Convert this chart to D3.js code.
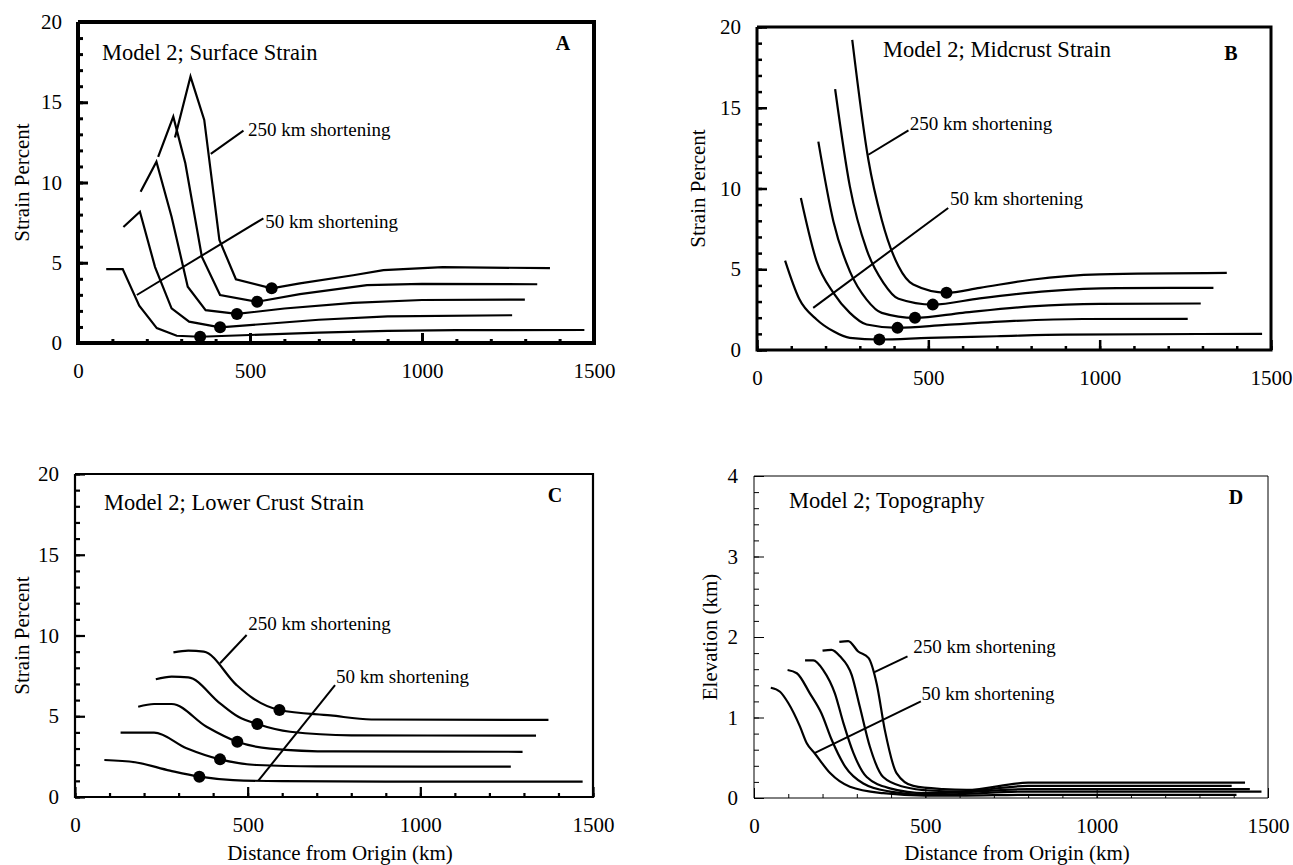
<!DOCTYPE html>
<html>
<head>
<meta charset="utf-8">
<script src="https://cdn.jsdelivr.net/npm/d3@7"></script>
<style>
  body { margin: 0; background: #fff; }
  svg { display: block; font-family: "Liberation Serif", "Times New Roman", serif; }
</style>
</head>
<body>
<div id="chart"></div>
<script>
// Tick values and labels
const xTicks = [0, 500, 1000, 1500];
const xMinorTicks = d3.range(0, 1501, 100);
const strainTicks = [0, 5, 10, 15, 20];
const strainMinorTicks = d3.range(0, 21, 1);
const elevTicks = [0, 1, 2, 3, 4];
const elevMinorTicks = d3.range(0, 4.01, 0.2);
const shorteningLabels = ["50 km shortening", "250 km shortening"];

// Panel A - surface strain, one curve per shortening step (50..250 km), [km, percent]
const surfaceStrain = [
    [[82, 4.6], [130, 4.6], [178, 2.33], [229, 0.93], [287, 0.45], [355, 0.39], [500, 0.5], [700, 0.65], [900, 0.76], [1100, 0.8], [1472, 0.81]],
    [[132, 7.23], [180, 8.18], [224, 4.73], [272, 2.16], [323, 1.33], [413, 0.98], [550, 1.2], [700, 1.45], [900, 1.66], [1262, 1.73]],
    [[182, 9.43], [228, 11.3], [272, 7.87], [319, 3.51], [371, 2.05], [462, 1.81], [600, 2.15], [800, 2.5], [1000, 2.68], [1299, 2.7]],
    [[233, 11.6], [277, 14.1], [312, 11.2], [360, 5.38], [413, 2.99], [521, 2.57], [645, 3.04], [840, 3.6], [1000, 3.69], [1335, 3.66]],
    [[282, 12.8], [327, 16.6], [367, 13.9], [411, 6.42], [459, 3.97], [563, 3.41], [645, 3.72], [800, 4.22], [888, 4.54], [1060, 4.73], [1372, 4.66]]
];
const surfaceDots = [[355, 0.39], [413, 0.98], [462, 1.81], [521, 2.57], [563, 3.41]];

// Panel B - midcrust strain
const midcrustStrain = [
    [[82, 5.53], [123, 3.17], [174, 1.89], [223, 1.16], [271, 0.75], [357, 0.65], [500, 0.75], [700, 0.85], [900, 0.95], [1474, 1.0]],
    [[128, 9.41], [174, 5.49], [223, 3.54], [271, 2.3], [320, 1.58], [410, 1.37], [550, 1.55], [750, 1.8], [950, 1.92], [1257, 1.93]],
    [[179, 12.9], [223, 7.96], [271, 4.87], [320, 3.12], [364, 2.3], [461, 1.99], [600, 2.3], [800, 2.7], [1000, 2.86], [1295, 2.88]],
    [[228, 16.15], [271, 10.13], [320, 6.21], [369, 4.16], [413, 3.17], [513, 2.81], [650, 3.2], [850, 3.65], [1050, 3.83], [1332, 3.85]],
    [[278, 19.2], [325, 11.78], [364, 8.07], [413, 5.18], [456, 4.05], [553, 3.54], [650, 3.85], [800, 4.35], [1000, 4.68], [1371, 4.77]]
];
const midcrustDots = [[357, 0.65], [410, 1.37], [461, 1.99], [513, 2.81], [553, 3.54]];

// Panel C - lower crust strain
const lowerCrustStrain = [
    [[85, 2.29], [174, 2.15], [275, 1.63], [360, 1.26], [458, 1.05], [600, 0.98], [900, 0.95], [1470, 0.95]],
    [[132, 3.98], [229, 3.98], [323, 3.02], [420, 2.33], [526, 1.98], [700, 1.9], [1262, 1.88]],
    [[183, 5.59], [229, 5.76], [280, 5.76], [381, 4.35], [470, 3.42], [565, 3.0], [750, 2.82], [1296, 2.8]],
    [[234, 7.29], [280, 7.45], [328, 7.41], [420, 5.8], [473, 4.97], [528, 4.52], [623, 4.04], [800, 3.82], [1335, 3.8]],
    [[285, 8.96], [328, 9.06], [373, 9.0], [468, 6.93], [516, 6.1], [592, 5.39], [740, 5.05], [858, 4.8], [1371, 4.77]]
];
const lowerCrustDots = [[360, 1.26], [420, 2.33], [470, 3.42], [528, 4.52], [592, 5.39]];

// Panel D - topography, elevation in km
const topography = [
    [[49, 1.37], [76, 1.32], [100, 1.18], [134, 0.89], [154, 0.68], [178, 0.55], [222, 0.31], [280, 0.14], [377, 0.06], [500, 0.03], [600, 0.03], [800, 0.04], [1408, 0.04]],
    [[98, 1.59], [125, 1.55], [163, 1.3], [197, 1.05], [227, 0.72], [266, 0.39], [319, 0.18], [397, 0.08], [500, 0.04], [600, 0.05], [800, 0.08], [1481, 0.08]],
    [[149, 1.71], [173, 1.71], [202, 1.59], [236, 1.3], [261, 0.93], [290, 0.56], [329, 0.26], [397, 0.12], [500, 0.06], [600, 0.07], [800, 0.11], [1447, 0.11]],
    [[200, 1.83], [226, 1.84], [251, 1.76], [285, 1.53], [309, 1.13], [338, 0.64], [377, 0.26], [436, 0.14], [520, 0.09], [600, 0.08], [800, 0.15], [1394, 0.15]],
    [[249, 1.94], [275, 1.95], [304, 1.82], [334, 1.74], [358, 1.42], [382, 0.84], [416, 0.31], [465, 0.15], [552, 0.11], [620, 0.1], [800, 0.19], [1433, 0.19]]
];

// Leader lines [x1, y1, x2, y2] and label anchors [x, y] in data units: 50 km first, then 250 km
const surfaceLeaders = [[171, 2.99, 539, 7.77], [386, 11.78, 481, 13.23]];
const surfaceLabelPos = [[544, 7.17], [494, 12.9]];
const midcrustLeaders = [[164, 2.61, 558, 8.79], [325, 12.09, 442, 13.6]];
const midcrustLabelPos = [[563, 8.98], [446, 13.64]];
const lowerCrustLeaders = [[531, 1.01, 753, 6.93], [420, 8.28, 497, 10.03]];
const lowerCrustLabelPos = [[756, 7.06], [502, 10.34]];
const topoLeaders = [[178, 0.56, 487, 1.2], [350, 1.56, 448, 1.76]];
const topoLabelPos = [[489, 1.22], [465, 1.8]];

const svg = d3.select('#chart')
    .append('svg')
    .attr('width', 1293)
    .attr('height', 865);

const panels = [
    {
        letter: 'A', title: 'Model 2; Surface Strain', yLabel: 'Strain Percent',
        box: [78, 22, 594, 343], yMax: 20, yTicks: strainTicks, yMinor: strainMinorTicks,
        curves: surfaceStrain, dots: surfaceDots, leaders: surfaceLeaders, labelPos: surfaceLabelPos,
        curve: d3.curveLinear, titleOff: [24, 38], letterOff: [31, 28], yLabelOff: 49, xLabel: false,
        frameW: 4, tickW: 3
    },
    {
        letter: 'B', title: 'Model 2; Midcrust Strain', yLabel: 'Strain Percent',
        box: [757, 27, 1271, 350], yMax: 20, yTicks: strainTicks, yMinor: strainMinorTicks,
        curves: midcrustStrain, dots: midcrustDots, leaders: midcrustLeaders, labelPos: midcrustLabelPos,
        curve: d3.curveMonotoneX, titleOff: [126, 30], letterOff: [40, 33], yLabelOff: 52, xLabel: false,
        frameW: 3, tickW: 2.5
    },
    {
        letter: 'C', title: 'Model 2; Lower Crust Strain', yLabel: 'Strain Percent',
        box: [75, 474, 593, 797], yMax: 20, yTicks: strainTicks, yMinor: strainMinorTicks,
        curves: lowerCrustStrain, dots: lowerCrustDots, leaders: lowerCrustLeaders, labelPos: lowerCrustLabelPos,
        curve: d3.curveMonotoneX, titleOff: [29, 36], letterOff: [38, 28], yLabelOff: 46, xLabel: true,
        frameW: 2.2, tickW: 2.2
    },
    {
        letter: 'D', title: 'Model 2; Topography', yLabel: 'Elevation (km)',
        box: [754, 476, 1268, 798], yMax: 4, yTicks: elevTicks, yMinor: elevMinorTicks,
        curves: topography, dots: [], leaders: topoLeaders, labelPos: topoLabelPos,
        curve: d3.curveMonotoneX, titleOff: [35, 32], letterOff: [32, 28], yLabelOff: 37, xLabel: true,
        frameW: 1, tickW: 1
    }
];

function drawPanel(p) {
    const [x0, y0, x1, y1] = p.box;
    const x = d3.scaleLinear().domain([0, 1500]).range([x0, x1]);
    const y = d3.scaleLinear().domain([0, p.yMax]).range([y1, y0]);
    const g = svg.append('g');

    // Frame drawn as one polyline through the scales, same way as the curves
    const plotLine = d3.line().x(d => x(d[0])).y(d => y(d[1]));
    g.append('path')
        .attr('d', plotLine([[0, p.yMax], [0, 0], [1500, 0], [1500, p.yMax], [0, p.yMax]]))
        .attr('fill', 'none')
        .attr('stroke', '#000')
        .attr('stroke-width', p.frameW);

    // Axes with inward ticks
    g.append('g')
        .attr('transform', `translate(0,${y1})`)
        .call(d3.axisBottom(x).tickValues(xMinorTicks).tickSizeInner(-4).tickSizeOuter(0).tickFormat(''))
        .call(a => a.select('.domain').remove())
        .selectAll('line').attr('stroke-width', p.tickW);
    g.append('g')
        .attr('transform', `translate(${x0},0)`)
        .call(d3.axisLeft(y).tickValues(p.yMinor).tickSizeInner(-5).tickSizeOuter(0).tickFormat(''))
        .call(a => a.select('.domain').remove())
        .selectAll('line').attr('stroke-width', p.tickW);
    const xAxis = g.append('g')
        .attr('transform', `translate(0,${y1})`)
        .call(d3.axisBottom(x).tickValues(xTicks).tickSizeInner(-10).tickSizeOuter(0).tickPadding(20).tickFormat(d3.format('d')));
    const yAxis = g.append('g')
        .attr('transform', `translate(${x0},0)`)
        .call(d3.axisLeft(y).tickValues(p.yTicks).tickSizeInner(-10).tickSizeOuter(0).tickPadding(16).tickFormat(d3.format('d')));
    [xAxis, yAxis].forEach(a => {
        a.select('.domain').remove();
        a.attr('font-family', null).attr('font-size', 21);
        a.selectAll('line').attr('stroke-width', p.tickW);
    });

    // Curves
    const curveLine = d3.line().x(d => x(d[0])).y(d => y(d[1])).curve(p.curve);
    p.curves.forEach(c => {
        g.append('path')
            .attr('d', curveLine(c))
            .attr('fill', 'none')
            .attr('stroke', '#000')
            .attr('stroke-width', 2.2);
    });

    // Dots
    p.dots.forEach(d => {
        g.append('circle')
            .attr('cx', x(d[0]))
            .attr('cy', y(d[1]))
            .attr('r', 6)
            .attr('fill', '#000');
    });

    // Leader lines and shortening labels
    p.leaders.forEach((d, i) => {
        g.append('line')
            .attr('x1', x(d[0])).attr('y1', y(d[1]))
            .attr('x2', x(d[2])).attr('y2', y(d[3]))
            .attr('stroke', '#000').attr('stroke-width', 2);
        g.append('text')
            .attr('x', x(p.labelPos[i][0]))
            .attr('y', y(p.labelPos[i][1]))
            .attr('font-size', 19)
            .text(shorteningLabels[i]);
    });

    // Title and panel letter
    g.append('text')
        .attr('x', x0 + p.titleOff[0])
        .attr('y', y0 + p.titleOff[1])
        .attr('font-size', 22.5)
        .text(p.title);
    g.append('text')
        .attr('x', x1 - p.letterOff[0])
        .attr('y', y0 + p.letterOff[1])
        .attr('text-anchor', 'middle')
        .attr('font-size', 20)
        .attr('font-weight', 'bold')
        .text(p.letter);

    // Axis titles
    g.append('text')
        .attr('transform', `translate(${x0 - p.yLabelOff},${(y0 + y1) / 2}) rotate(-90)`)
        .attr('text-anchor', 'middle')
        .attr('font-size', 21)
        .text(p.yLabel);

    if (p.xLabel) {
        g.append('text')
            .attr('x', (x0 + x1) / 2 + 6)
            .attr('y', 860)
            .attr('text-anchor', 'middle')
            .attr('font-size', 21)
            .text('Distance from Origin (km)');
    }
}

panels.forEach(drawPanel);
</script>
</body>
</html>
